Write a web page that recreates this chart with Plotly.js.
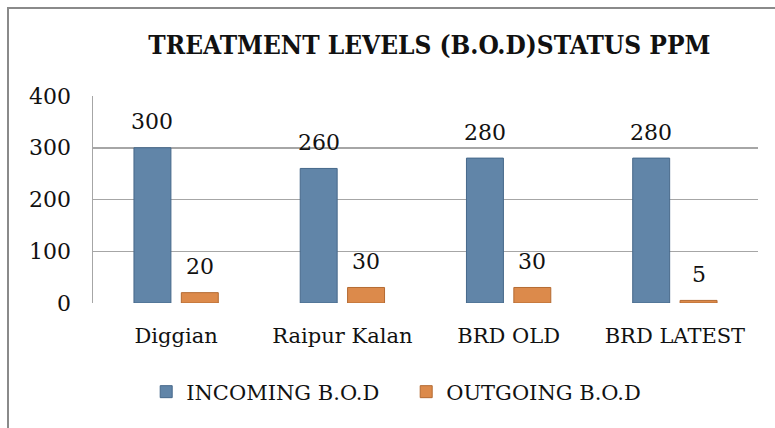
<!DOCTYPE html>
<html>
<head>
<meta charset="utf-8">
<script src="https://cdn.plot.ly/plotly-3.0.1.min.js"></script>
<style>
html,body{margin:0;padding:0;background:#fff;}
#wrap{position:relative;width:775px;height:428px;}
#frame{position:absolute;left:7px;top:7px;width:780px;height:440px;border-left:2px solid #8a8a8a;border-top:2px solid #8a8a8a;pointer-events:none;}
#chart{position:absolute;left:0;top:0;width:775px;height:428px;}
</style>
</head>
<body>
<div id="wrap"><div id="chart"></div><div id="frame"></div></div>
<script>
const categories = ["Diggian", "Raipur Kalan", "BRD OLD", "BRD LATEST"];
const incoming = [300, 260, 280, 280];
const outgoing = [20, 30, 30, 5];
const seriesNames = ["INCOMING B.O.D", "OUTGOING B.O.D"];
const yTicks = [0, 100, 200, 300, 400];

const font = "'DejaVu Serif'";
const titleFont = "'DejaVu Serif Condensed', 'DejaVu Serif'";
const bargap = 0.43, bargroupgap = 0.22;
const W = 775, mL = 93, mR = 17;
const catW = (W - mL - mR) / categories.length;
const slot = catW * (1 - bargap) / 2;

const traces = [
  {type: 'bar', x: categories, y: incoming, name: seriesNames[0],
   marker: {color: '#6185a8', line: {color: '#46688a', width: 1}}},
  {type: 'bar', x: categories, y: outgoing, name: seriesNames[1],
   marker: {color: '#dc8a4b', line: {color: '#b46a32', width: 1}}}
];

const annotations = [];
[incoming, outgoing].forEach((vals, si) => {
  vals.forEach((v, i) => {
    annotations.push({x: categories[i], y: v, xref: 'x', yref: 'y', text: String(v),
      showarrow: false, xshift: (si === 0 ? -1 : 1) * slot / 2, yshift: 26,
      font: {family: font, size: 22, color: '#111'}});
  });
});

const layout = {
  width: 775, height: 428,
  margin: {l: mL, r: mR, t: 96, b: 125},
  paper_bgcolor: '#fff', plot_bgcolor: '#fff',
  title: {text: '<b>TREATMENT LEVELS (B.O.D)STATUS PPM</b>', x: 0.554, xanchor: 'center', y: 0.895, yanchor: 'middle',
          font: {family: titleFont, size: 26, color: '#111'}},
  barmode: 'group', bargap: bargap, bargroupgap: bargroupgap,
  xaxis: {type: 'category', showgrid: false, zeroline: false, showline: false,
          tickfont: {family: font, size: 21, color: '#111'}, ticklabelstandoff: 18},
  yaxis: {range: [0, 400], tickvals: yTicks, showgrid: true, gridcolor: '#a6a6a6', gridwidth: 1.5,
          zeroline: false, showline: true, linecolor: '#a6a6a6', linewidth: 1.5,
          tickfont: {family: font, size: 22, color: '#111'}, ticklabelstandoff: 16},
  showlegend: true,
  legend: {orientation: 'h', x: 0.08, xanchor: 'left', y: -0.43, yanchor: 'middle',
           font: {family: font, size: 21, color: '#111'}, itemwidth: 30, tracegroupgap: 0,
           entrywidth: 215, entrywidthmode: 'pixels'},
  annotations: annotations
};

Plotly.newPlot('chart', traces, layout, {displayModeBar: false, staticPlot: true});
</script>
</body>
</html>
